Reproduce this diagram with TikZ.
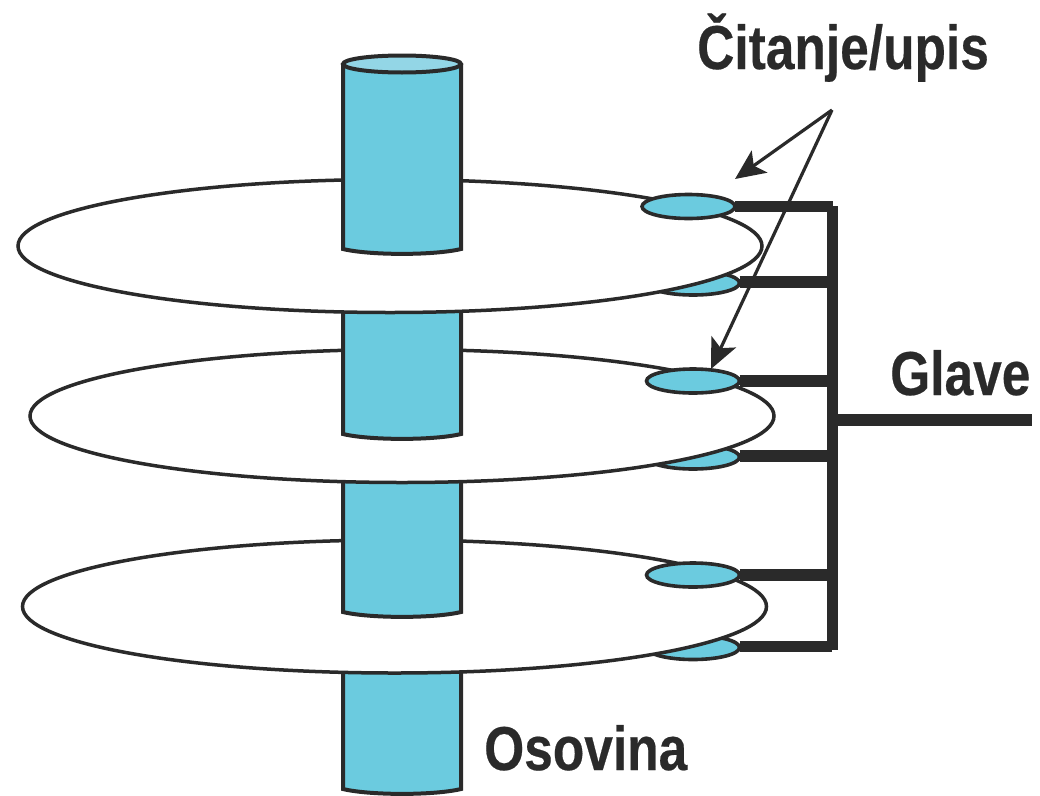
\documentclass[tikz,border=0pt]{standalone}
\usepackage{fontspec}
\setmainfont{Liberation Sans}
\newfontfamily\narrowbold[FakeStretch=0.83,FakeBold=0.35]{Liberation Sans Bold}
\usetikzlibrary{shapes.geometric,arrows.meta}
\definecolor{ink}{HTML}{2A2A2A}
\definecolor{cyanfill}{HTML}{6BCBDF}
\definecolor{cyantop}{HTML}{93D6E6}
\tikzset{
  x=1pt,y=-1pt,
  shaftseg/.style={fill=cyanfill,draw=ink,line width=4pt,line join=round},
  shafttop/.style={ellipse,fill=cyantop,draw=ink,line width=4pt,minimum width=118pt,minimum height=17pt,inner sep=0pt,outer sep=0pt},
  platter/.style={ellipse,fill=white,draw=ink,line width=3.5pt,minimum width=744pt,minimum height=133pt,inner sep=0pt,outer sep=0pt},
  rwhead/.style={ellipse,fill=cyanfill,draw=ink,line width=3.6pt,minimum width=93pt,minimum height=24pt,inner sep=0pt,outer sep=0pt},
  arm/.style={draw=ink,line width=11.5pt},
  leader/.style={draw=ink,line width=3.2pt,-{Stealth[length=30pt,width=27pt,inset=7pt]}},
  lbl/.style={font=\narrowbold\fontsize{62}{62}\selectfont,text=ink,inner sep=0pt,anchor=base west}
}
\newcommand{\shaftpiece}[2]{%
  \path[fill=cyanfill] (343,#1) -- (343,#2) .. controls (370,#2+6.5) and (434,#2+6.5) .. (461,#2) -- (461,#1);
  \draw[ink,line width=4pt] (343,#1) -- (343,#2) .. controls (370,#2+6.5) and (434,#2+6.5) .. (461,#2) -- (461,#1);
}
\begin{document}
\begin{tikzpicture}
\useasboundingbox (0,0) rectangle (1040,795);
\fill[white] (0,0) rectangle (1040,795);
% bottom to top
\shaftpiece{665}{789}
\node[rwhead] (h6) at (693,647.5) {};
\node[platter] (d3) at (394.5,606.5) {};
\shaftpiece{478}{612}
\node[rwhead] (h5) at (693,575) {};
\node[rwhead] (h4) at (693,457) {};
\node[platter] (d2) at (402,416) {};
\shaftpiece{305}{434}
\node[rwhead] (h3) at (693,381) {};
\node[rwhead] (h2) at (693,283) {};
\node[platter] (d1) at (390,246) {};
\shaftpiece{64}{249}
\node[shafttop] (top) at (402,64) {};
\node[rwhead] (h1) at (688.5,206.5) {};
% carriage
\coordinate (vt) at (832.5,206);
\coordinate (vb) at (832.5,650);
\coordinate (j2) at (832,282);
\coordinate (j3) at (832,381);
\coordinate (j4) at (832,456);
\coordinate (j5) at (832,575);
\coordinate (j6) at (832,646.5);
\coordinate (gj) at (832,420);
\coordinate (gend) at (1032,420);
\draw[arm] (vt) -- (vb);
\draw[arm] (h1.east) -- (vt |- h1.east);
\draw[arm] (h2.east |- j2) -- (j2);
\draw[arm] (h3.east) -- (j3);
\draw[arm] (h4.east |- j4) -- (j4);
\draw[arm] (h5.east) -- (j5);
\draw[arm] (h6.east |- j6) -- (j6);
\draw[arm] (gj) -- (gend);
% leaders
\coordinate (apex) at (832,110);
\coordinate (t1) at (735,179);
\coordinate (t2) at (711,369);
\draw[leader] (apex) -- (t1);
\draw[leader] (apex) -- (t2);
% labels
\node[lbl] (rw) at (697,69) {Čitanje/upis};
\node[lbl] (gl) at (890,395) {Glave};
\node[lbl] (os) at (484,770) {Osovina};
\end{tikzpicture}
\end{document}
